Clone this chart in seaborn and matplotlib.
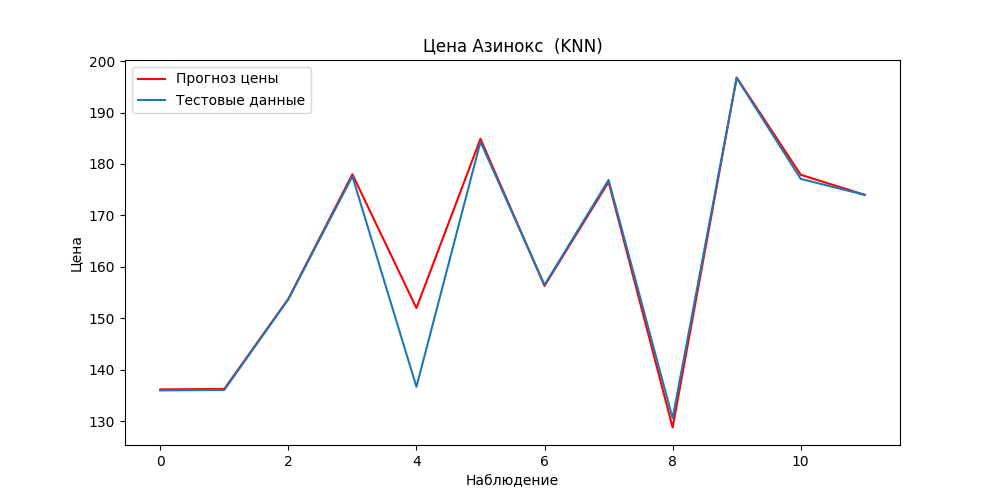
import numpy as np
import pandas as pd
import seaborn as sns
import matplotlib
matplotlib.use("Agg")
import matplotlib.pyplot as plt

observations = list(range(12))
predicted = [136.2, 136.3, 153.8, 178.0, 152.0, 184.9, 156.3, 176.5, 128.8, 196.8, 177.9, 174.0]
actual = [136.0, 136.1, 153.7, 177.6, 136.7, 184.3, 156.5, 176.9, 130.6, 196.7, 177.1, 174.0]

df = pd.DataFrame({'obs': observations, 'pred': predicted, 'test': actual})

fig, ax = plt.subplots(figsize=(10, 5), dpi=100)
sns.lineplot(data=df, x='obs', y='pred', color='red', label='Прогноз цены', ax=ax)
sns.lineplot(data=df, x='obs', y='test', color='#1f77b4', label='Тестовые данные', ax=ax)
ax.set_title('Цена Азинокс  (KNN)')
ax.set_xlabel('Наблюдение')
ax.set_ylabel('Цена')
ax.legend(loc='upper left')
plt.savefig('out.png', dpi=100)
